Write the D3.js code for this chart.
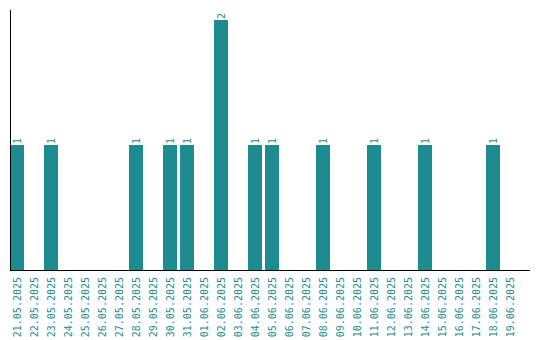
<!DOCTYPE html>
<html><head><meta charset="utf-8">
<script src="https://cdn.jsdelivr.net/npm/d3@7/dist/d3.min.js"></script>
<style>body{margin:0;background:#fff}svg{display:block}text{font-family:"DejaVu Sans Mono",monospace}</style>
</head><body><svg id="c" width="540" height="340"></svg>
<script>
const categories = ["21.05.2025","22.05.2025","23.05.2025","24.05.2025","25.05.2025","26.05.2025","27.05.2025","28.05.2025","29.05.2025","30.05.2025","31.05.2025","01.06.2025","02.06.2025","03.06.2025","04.06.2025","05.06.2025","06.06.2025","07.06.2025","08.06.2025","09.06.2025","10.06.2025","11.06.2025","12.06.2025","13.06.2025","14.06.2025","15.06.2025","16.06.2025","17.06.2025","18.06.2025","19.06.2025"];
const values = [1,0,1,0,0,0,0,1,0,1,1,0,2,0,1,1,0,0,1,0,0,1,0,0,1,0,0,0,1,0];
const color = "#1e8b90";
const svg = d3.select("#c");
const x = d3.scaleBand().domain(categories).range([10, 517]).paddingInner(3/17).paddingOuter(0);
const y = d3.scaleLinear().domain([0, 2]).range([270, 20]);
const data = categories.map((c,i)=>({c, v: values[i]}));
const bars = data.filter(d=>d.v>0);
svg.selectAll("rect.bar").data(bars).join("rect").attr("class","bar")
  .attr("x", d=>x(d.c)).attr("width", x.bandwidth())
  .attr("y", d=>y(d.v)).attr("height", d=>y(0)-y(d.v)).attr("fill", color);
svg.selectAll("text.val").data(bars).join("text").attr("class","val")
  .attr("transform", d=>`translate(${x(d.c)+x.bandwidth()/2},${y(d.v)-1}) rotate(-90)`)
  .attr("dy","0.35em").attr("text-anchor","start").attr("font-size","10px").attr("fill", color)
  .text(d=>d.v);
// axes
svg.append("line").attr("x1",10.5).attr("x2",10.5).attr("y1",10).attr("y2",270).attr("stroke","#000");
svg.append("line").attr("x1",10).attr("x2",530).attr("y1",270.5).attr("y2",270.5).attr("stroke","#000");
svg.selectAll("text.xl").data(categories).join("text").attr("class","xl")
  .attr("transform", d=>`translate(${x(d)+x.bandwidth()/2},277) rotate(-90)`)
  .attr("dy","0.35em").attr("text-anchor","end").attr("font-size","10px").attr("fill", color)
  .text(d=>d);
</script></body></html>
